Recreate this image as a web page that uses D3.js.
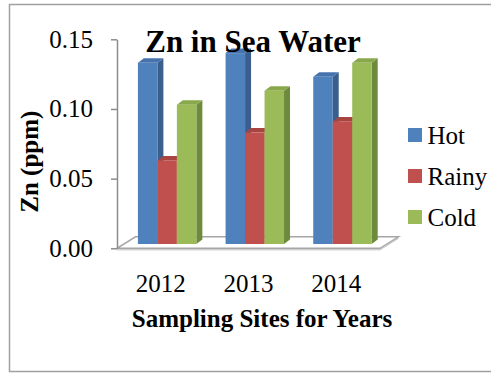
<!DOCTYPE html>
<html><head><meta charset="utf-8">
<script src="https://cdn.jsdelivr.net/npm/d3@7"></script>
<style>html,body{margin:0;padding:0;background:#fff;} svg{display:block;}</style>
</head><body>
<script>
const categories = ["2012", "2013", "2014"];
const seriesNames = ["Hot", "Rainy", "Cold"];
const hotValues = [0.13, 0.137, 0.12];
const rainyValues = [0.06, 0.08, 0.088];
const coldValues = [0.10, 0.11, 0.13];
const yTicks = [0, 0.05, 0.10, 0.15];
const title = "Zn in Sea Water";
const xTitle = "Sampling Sites for Years";
const yTitle = "Zn (ppm)";

const series = [
  {name: seriesNames[0], values: hotValues, front: "#4F81BD", side: "#3A5F8C", top: "#4673AD"},
  {name: seriesNames[1], values: rainyValues, front: "#C0504D", side: "#8E3B39", top: "#A94541"},
  {name: seriesNames[2], values: coldValues, front: "#9BBB59", side: "#6E8A3D", top: "#89A84B"}
];

const W = 491, H = 373;
const svg = d3.select("body").append("svg").attr("width", W).attr("height", H);
const font = "'Liberation Serif','Times New Roman',serif";

// outer border
svg.append("rect").attr("x", 9.5).attr("y", 4.5).attr("width", 490).attr("height", 367)
  .attr("fill", "none").attr("stroke", "#A0A0A0").attr("stroke-width", 1.5);

const x0 = 117, x1 = 380, yBase = 248.3, yTop = 39.3;
const y = d3.scaleLinear().domain([0, 0.15]).range([yBase, yTop]);
const x = d3.scaleBand().domain(categories).range([x0, x1]);
const xi = d3.scaleBand().domain(seriesNames)
  .range([x.bandwidth() / 6, x.bandwidth() * 5 / 6]);

// floor depth
const fdx = 18.5, fdy = -11.5;
// bar position offset inside depth, bar own depth
const bOffX = 6.3, bOffY = -4.3;
const bdx = 6, bdy = -4.5;

// floor
svg.append("path")
  .attr("d", `M${x0},${yBase} L${x1},${yBase} L${x1 + fdx},${yBase + fdy} L${x0 + fdx},${yBase + fdy} Z`)
  .attr("fill", "#fff").attr("stroke", "#A6A6A6").attr("stroke-width", 1.5);
svg.append("path")
  .attr("d", `M${x0},${yBase + 1.5} L${x1},${yBase + 1.5} L${x1 + fdx},${yBase + fdy + 1.5}`)
  .attr("fill", "none").attr("stroke", "#BDBDBD").attr("stroke-width", 1);

// y axis
const yAxis = d3.axisLeft(y).tickValues(yTicks).tickFormat(d3.format(".2f"))
  .tickSizeInner(6).tickSizeOuter(0).tickPadding(18);
const ga = svg.append("g").attr("transform", `translate(${x0},0)`).call(yAxis);
ga.select(".domain").attr("stroke", "#8C8C8C").attr("stroke-width", 1.5);
ga.selectAll(".tick line").attr("stroke", "#8C8C8C").attr("stroke-width", 1.5);
ga.selectAll(".tick text").attr("font-family", font).attr("font-size", 25).attr("fill", "#000");

// bars
const gb = svg.append("g");
categories.forEach((c, ci) => {
  series.forEach(s => {
    const v = s.values[ci];
    const bx = x(c) + xi(s.name) + bOffX;
    const bw = xi.bandwidth();
    const by0 = yBase + bOffY;
    const byv = y(v) + bOffY;
    // side
    gb.append("path")
      .attr("d", `M${bx + bw},${byv} L${bx + bw + bdx},${byv + bdy} L${bx + bw + bdx},${by0 + bdy} L${bx + bw},${by0} Z`)
      .attr("fill", s.side);
    // top
    gb.append("path")
      .attr("d", `M${bx},${byv} L${bx + bw},${byv} L${bx + bw + bdx},${byv + bdy} L${bx + bdx},${byv + bdy} Z`)
      .attr("fill", s.top);
    // front
    gb.append("rect").attr("x", bx).attr("y", byv).attr("width", bw).attr("height", by0 - byv)
      .attr("fill", s.front);
  });
});

// category labels
svg.append("g").selectAll("text").data(categories).join("text")
  .attr("x", d => x(d) + x.bandwidth() / 2).attr("y", 291.7)
  .attr("text-anchor", "middle").attr("font-family", font).attr("font-size", 25)
  .text(d => d);

// axis titles
svg.append("text").attr("x", 262).attr("y", 326.7).attr("text-anchor", "middle")
  .attr("font-family", font).attr("font-size", 25).attr("font-weight", "bold").text(xTitle);
svg.append("text").attr("transform", "translate(37.5,161.7) rotate(-90)").attr("text-anchor", "middle")
  .attr("font-family", font).attr("font-size", 25).attr("font-weight", "bold").text(yTitle);

// legend
const lg = svg.append("g").selectAll("g").data(series).join("g")
  .attr("transform", (d, i) => `translate(408,${135 + i * 41})`);
lg.append("rect").attr("x", 0).attr("y", -7).attr("width", 14).attr("height", 14).attr("fill", d => d.front);
lg.append("text").attr("x", 19.5).attr("y", 0).attr("dy", "0.35em")
  .attr("font-family", font).attr("font-size", 25).text(d => d.name);

// title
svg.append("text").attr("x", 253).attr("y", 51.7).attr("text-anchor", "middle")
  .attr("font-family", font).attr("font-size", 31).attr("font-weight", "bold").text(title);
</script>
</body></html>
